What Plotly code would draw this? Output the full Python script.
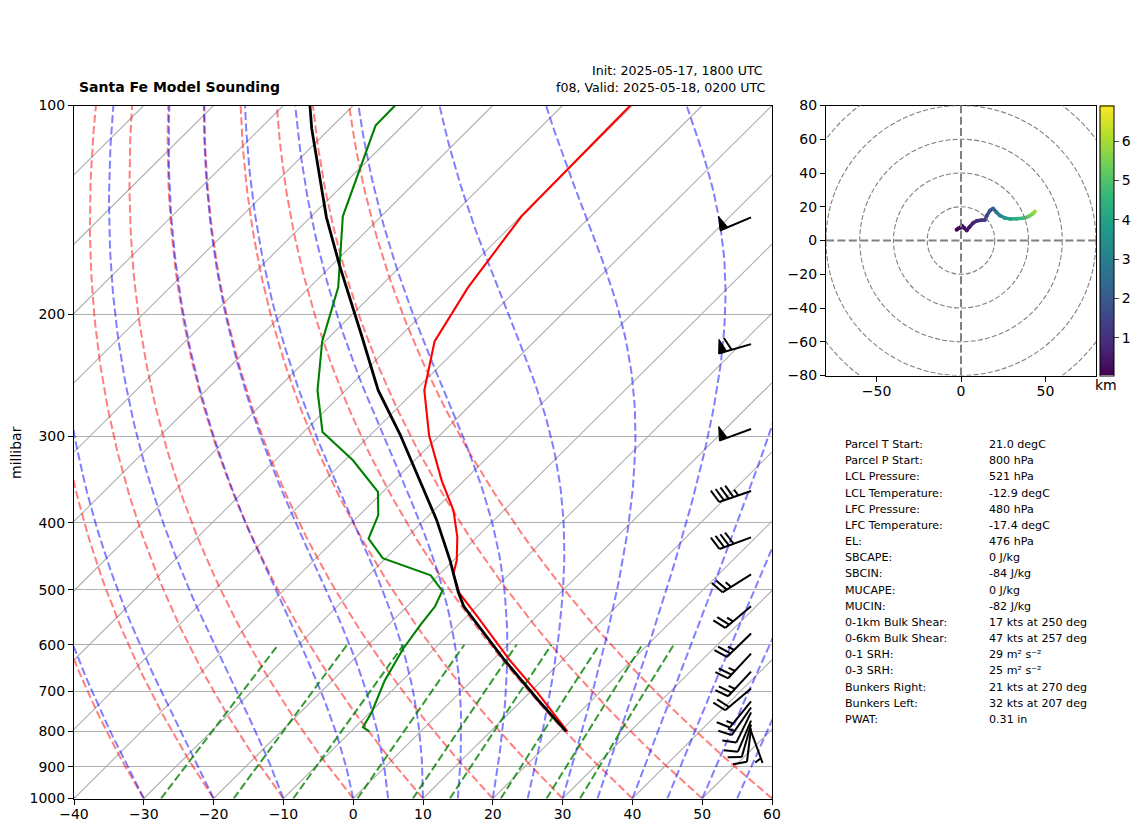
import numpy as np
import plotly.graph_objects as go
from plotly.colors import sample_colorscale

# sounding (hPa, degC)
temp_p = [100, 144.5, 183, 219, 257.7, 299.4, 347.7, 384, 419.6, 453.6, 473.6, 505.6, 544.6, 629, 705, 800]
temp_c = [-60.3, -59.9, -57.3, -54.3, -48.7, -41.5, -33.2, -27.2, -22.8, -19.5, -18.1, -14.4, -8.7, 2.15, 11.3, 21.0]
dewp_p = [100, 106.9, 144.5, 183, 219, 257.7, 295.8, 325, 361, 390, 421.7, 450, 476.4, 501.6, 528, 562.6, 608, 676, 750.6, 789, 800]
dewp_c = [-94.0, -93.9, -85.5, -75.9, -70.4, -64.0, -57.3, -48.85, -40.7, -37.3, -35.3, -30.45, -21.1, -17.2, -16.0, -15.4, -14.45, -12.5, -9.8, -8.9, -7.4]
parcel_p = [100, 108, 145, 170.2, 214, 257.7, 298.4, 347.7, 396.6, 453.6, 504, 528, 629, 722, 800]
parcel_c = [-106.2, -102.6, -87.7, -78.85, -65.8, -55.3, -45.8, -36.3, -28.2, -20.45, -14.7, -11.9, 1.4, 12.4, 20.8]

# wind barbs
barb_p = [145, 221, 293, 360, 420, 475, 528, 578, 618, 656, 694, 724, 739, 751, 772, 782, 792, 800]
barb_spd = [50, 60, 50, 45, 40, 25, 25, 25, 25, 25, 20, 15, 15, 10, 10, 10, 10, 5]
barb_dir = [247, 254, 250, 251, 250, 238, 230, 226, 223, 223, 230, 219, 215, 206, 203, 196, 187, 160]

# hodograph
hodo_u = [-2.6, -1.5, -0.2, 0.4, 1.8, 3.4, 5, 7.3, 9.5, 12, 14.2, 15.2, 17.2, 19, 21, 23, 26, 29, 33, 37.9, 40.5, 42.5, 43.8]
hodo_v = [6.3, 7.2, 7.6, 8.9, 7.5, 5.9, 8, 10.5, 11.7, 12, 12.2, 14.5, 17.8, 19, 16.8, 14.8, 13.4, 12.8, 12.9, 13.4, 14.5, 15.8, 17.2]
hodo_h = [0.04, 0.1, 0.15, 0.2, 0.3, 0.4, 0.55, 0.7, 0.85, 1, 1.2, 1.4, 1.8, 2.2, 2.7, 3.1, 3.6, 4, 4.4, 4.9, 5.3, 5.6, 5.9]
hodo_rings = [20, 40, 60, 80, 100]

# stats table
stat_names = ["Parcel T Start:", "Parcel P Start:", "LCL Pressure:", "LCL Temperature:", "LFC Pressure:",
              "LFC Temperature:", "EL:", "SBCAPE:", "SBCIN:", "MUCAPE:", "MUCIN:", "0-1km Bulk Shear:",
              "0-6km Bulk Shear:", "0-1 SRH:", "0-3 SRH:", "Bunkers Right:", "Bunkers Left:", "PWAT:"]
stat_vals = ["21.0 degC", "800 hPa", "521 hPa", "-12.9 degC", "480 hPa", "-17.4 degC", "476 hPa", "0 J/kg",
             "-84 J/kg", "0 J/kg", "-82 J/kg", "17 kts at 250 deg", "47 kts at 257 deg", "29 m² s⁻²",
             "25 m² s⁻²", "21 kts at 270 deg", "32 kts at 207 deg", "0.31 in"]

pres_ticks = [100, 200, 300, 400, 500, 600, 700, 800, 900, 1000]
mix_ratios = [0.0004, 0.001, 0.002, 0.004, 0.007, 0.01, 0.016, 0.024, 0.032]

W, H = 1142, 832
FONT = "DejaVu Sans"
PX_DEG = 6.98
PX_DEC = 693.0
SKEW = 100.0


def skew(t, p):
    return np.asarray(t, float) + SKEW * np.log10(1000.0 / np.asarray(p, float))


def moist_line(t0, pres):
    # rk4 on ln p, same lapse formula metpy uses
    def slope(lnp, t):
        p = np.exp(lnp)
        es = 6.112 * np.exp(17.67 * (t - 273.15) / (t - 29.65))
        rs = 0.622 * es / (p - es)
        return (287.0 * t + 2.501e6 * rs) / (1005.7 + 2.501e6 ** 2 * rs * 0.622 / (287.0 * t * t))
    out = [t0 + 273.15]
    for a, b in zip(pres[:-1], pres[1:]):
        h = np.log(b) - np.log(a)
        t, x = out[-1], np.log(a)
        k1 = slope(x, t)
        k2 = slope(x + h / 2, t + h * k1 / 2)
        k3 = slope(x + h / 2, t + h * k2 / 2)
        k4 = slope(x + h, t + h * k3)
        out.append(t + h * (k1 + 2 * k2 + 2 * k3 + k4) / 6)
    return np.array(out) - 273.15


fig = go.Figure()
pp = np.geomspace(1000, 100, 80)


def ref_line(x, y, color, width=2, dash="8px,3.4px"):
    fig.add_trace(go.Scatter(x=x, y=y, mode="lines", hoverinfo="skip",
                             line=dict(color=color, width=width, dash=dash)))


# isotherms
for t0 in range(-160, 70, 10):
    ref_line(skew([t0, t0], [1000, 100]), [1000, 100], "#b0b0b0", 1.1, "solid")

# dry adiabats
for t0 in range(-40, 61, 10):
    ref_line(skew((t0 + 273.15) * (pp / 1000) ** 0.2857 - 273.15, pp), pp, "rgba(255,0,0,0.5)")

# moist adiabats
for t0 in list(range(-40, 0, 10)) + list(range(0, 61, 5)):
    ref_line(skew(moist_line(t0, pp), pp), pp, "rgba(0,0,255,0.5)")

# mixing ratio lines
pm = np.geomspace(1000, 600, 20)
for w in mix_ratios:
    lg = np.log(pm * w / (0.622 + w) / 6.112)
    ref_line(skew(243.5 * lg / (17.67 - lg), pm), pm, "rgba(0,128,0,0.8)")

# sounding
fig.add_trace(go.Scatter(x=skew(temp_c, temp_p), y=temp_p, mode="lines", line=dict(color="red", width=2.1)))
fig.add_trace(go.Scatter(x=skew(dewp_c, dewp_p), y=dewp_p, mode="lines", line=dict(color="green", width=2.1)))
fig.add_trace(go.Scatter(x=skew(parcel_c, parcel_p), y=parcel_p, mode="lines", line=dict(color="black", width=2.8)))

# barbs, built in pixels then put back on the axes
BL = 33.7
bx, by, fx, fy = [], [], [], []
for p0, spd, d in zip(barb_p, barb_spd, barb_dir):
    sx, sy = np.sin(np.radians(d)), -np.cos(np.radians(d))
    nx, ny = -sy, sx

    def pt(along, side):
        return (57.0 + (along * sx + side * nx) / PX_DEG,
                p0 * 10 ** ((along * sy + side * ny) / PX_DEC))

    def seg(*pts):
        for a, b in pts:
            bx.append(a)
            by.append(b)
        bx.append(None)
        by.append(None)

    seg(pt(0, 0), pt(BL, 0))
    n50, rest = spd // 50, spd % 50
    n10, n5 = rest // 10, (rest % 10) // 5
    off = BL
    if n50 == 0 and n10 == 0:
        off -= 0.15 * BL
    for _ in range(n50):
        for a, b in (pt(off, 0), pt(off - 0.125 * BL, 0.4 * BL), pt(off - 0.25 * BL, 0), pt(off, 0)):
            fx.append(a)
            fy.append(b)
        fx.append(None)
        fy.append(None)
        off -= 0.25 * BL + 0.15 * BL
    for _ in range(n10):
        seg(pt(off, 0), pt(off + 0.125 * BL, 0.4 * BL))
        off -= 0.15 * BL
    for _ in range(n5):
        seg(pt(off, 0), pt(off + 0.0625 * BL, 0.2 * BL))

fig.add_trace(go.Scatter(x=fx, y=fy, mode="lines", fill="toself", fillcolor="black",
                         line=dict(color="black", width=1)))
fig.add_trace(go.Scatter(x=bx, y=by, mode="lines", line=dict(color="black", width=2)))

# hodograph
CMIN, CMAX = 0.04, 6.91
for i in range(len(hodo_u) - 1):
    t = ((hodo_h[i] + hodo_h[i + 1]) / 2 - CMIN) / (CMAX - CMIN)
    fig.add_trace(go.Scatter(x=hodo_u[i:i + 2], y=hodo_v[i:i + 2], mode="lines", xaxis="x2", yaxis="y2",
                             line=dict(color=sample_colorscale("Viridis", t)[0], width=3.5)))
fig.add_trace(go.Scatter(
    x=hodo_u, y=hodo_v, mode="markers", xaxis="x2", yaxis="y2",
    marker=dict(size=4, color=hodo_h, colorscale="Viridis", cmin=CMIN, cmax=CMAX,
                colorbar=dict(x=1100.3 / W, xanchor="left", y=(H - 375.5) / H, yanchor="bottom",
                              len=270, lenmode="pixels", thickness=14, thicknessmode="pixels",
                              xpad=0, ypad=0, outlinewidth=1, outlinecolor="black",
                              tickvals=[1, 2, 3, 4, 5, 6], ticks="outside", ticklen=5, tickwidth=1,
                              tickfont=dict(family=FONT, size=14, color="black")))))

shapes = []
for r in hodo_rings:
    shapes.append(dict(type="circle", xref="x2", yref="y2", x0=-r, x1=r, y0=-r, y1=r,
                       line=dict(color="gray", width=1.1, dash="5px,2.2px")))
shapes.append(dict(type="line", xref="x2", yref="y2", x0=-80, x1=80, y0=0, y1=0,
                   line=dict(color="gray", width=2, dash="8px,3.4px")))
shapes.append(dict(type="line", xref="x2", yref="y2", x0=0, x1=0, y0=-80, y1=80,
                   line=dict(color="gray", width=2, dash="8px,3.4px")))


def label(x, y, text, size=11.1, **kw):
    return dict(x=x / W, y=1 - y / H, xref="paper", yref="paper", text=text, showarrow=False,
                xanchor=kw.pop("xanchor", "left"), yanchor="middle",
                font=dict(family=FONT, size=size, color="black"), **kw)


notes = [
    label(77, 87, "<b>Santa Fe Model Sounding</b>", 14),
    label(590, 70, "Init: 2025-05-17, 1800 UTC", 12.6),
    label(554, 88, "f08, Valid: 2025-05-18, 0200 UTC", 12.6),
    label(16, 453, "millibar", 14, xanchor="center", textangle=-90),
    label(1106, 385, "km", 14, xanchor="center"),
]
for i, (a, b) in enumerate(zip(stat_names, stat_vals)):
    notes.append(label(843, 444.5 + i * 16.17, a))
    notes.append(label(987, 444.5 + i * 16.17, b))

axis = dict(showline=True, linecolor="black", linewidth=1.1, mirror=True, ticks="outside", ticklen=5,
            tickwidth=1.1, tickcolor="black", zeroline=False, showgrid=False, automargin=False,
            tickfont=dict(family=FONT, size=14, color="black"))

fig.update_layout(
    width=W, height=H, margin=dict(l=0, r=0, t=0, b=0, autoexpand=False), autosize=False,
    paper_bgcolor="white", plot_bgcolor="white", showlegend=False, hovermode=False,
    shapes=shapes, annotations=notes,
    xaxis=dict(domain=[74 / W, 772 / W], range=[-40, 60], dtick=10, tick0=-40, anchor="y",
               ticklabelstandoff=-2, **axis),
    yaxis=dict({**axis, "showgrid": True, "gridcolor": "#b0b0b0", "gridwidth": 1.1},
               domain=[(H - 798.5) / H, (H - 105.5) / H], type="log", range=[3, 2], anchor="x",
               tickmode="array", tickvals=pres_ticks, ticktext=[str(p) for p in pres_ticks]),
    xaxis2=dict(domain=[826 / W, 1096 / W], range=[-80, 80], tickvals=[-50, 0, 50], anchor="y2",
                ticklabelstandoff=-2, **axis),
    yaxis2=dict(domain=[(H - 375.5) / H, (H - 105.5) / H], range=[-80, 80], dtick=20, tick0=-80, anchor="x2", **axis),
)

fig.write_html("out.html", config={"displayModeBar": False}, post_script="document.body.style.margin='0';")
